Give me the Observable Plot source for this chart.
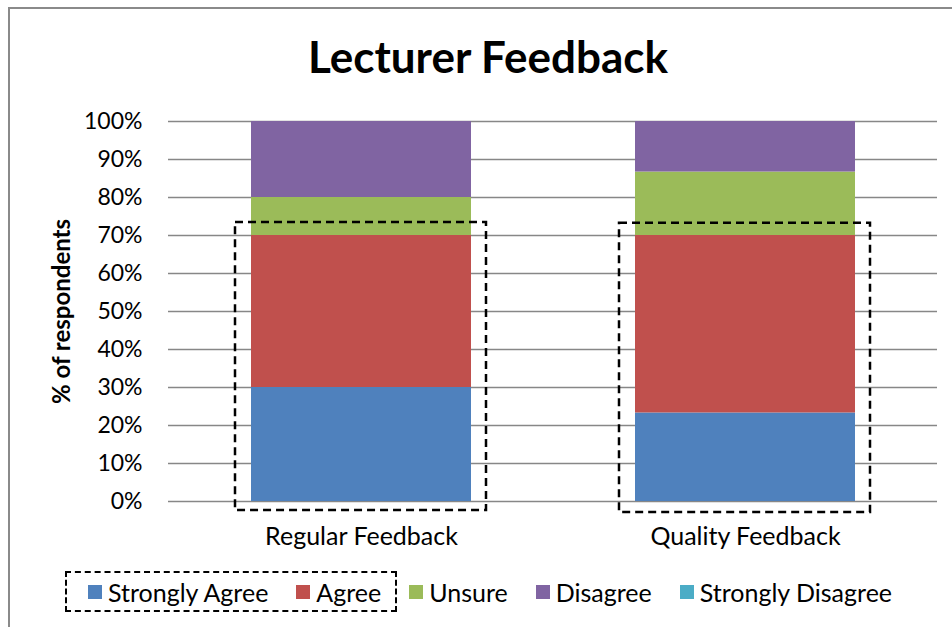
<!DOCTYPE html>
<html>
<head>
<meta charset="utf-8">
<script src="https://cdn.jsdelivr.net/npm/d3@7"></script>
<script src="https://cdn.jsdelivr.net/npm/@observablehq/plot@0.6"></script>
<style>
  html, body { margin: 0; padding: 0; background: #fff; }
  body { width: 952px; height: 627px; overflow: hidden; position: relative; font-family: Lato, "Open Sans", sans-serif; }
  #frame { position: absolute; left: 8px; top: 7px; width: 1000px; height: 700px; border: 2px solid #8a8a8a; box-sizing: border-box; }
  #chart { position: absolute; left: 0; top: 0; width: 952px; }
  #title { height: 100px; box-sizing: border-box; padding-top: 32px; padding-left: 24px; text-align: center; font-weight: bold; font-size: 44px; line-height: 48px; color: #000; }
  #legend { display: flex; align-items: center; height: 71px; padding-left: 65px; box-sizing: border-box; font-size: 25px; color: #000; }
  .group { display: flex; align-items: center; border: 2.5px dashed #000; height: 41px; box-sizing: border-box; padding-left: 21px; padding-right: 14px; }
  .item { display: flex; align-items: center; margin-right: 28px; }
  .group .item:last-child { margin-right: 0; }
  .outside { margin-left: 12px; }
  .sw { width: 14px; height: 14px; margin-right: 6px; }
</style>
</head>
<body>
<div id="frame"></div>
<div id="chart">
  <div id="title">Lecturer Feedback</div>
  <div id="plot"></div>
  <div id="legend"></div>
</div>
<script>
const categories = ["Regular Feedback", "Quality Feedback"];
const seriesNames = ["Strongly Agree", "Agree", "Unsure", "Disagree", "Strongly Disagree"];
const regularPct = [30, 40, 10, 20, 0];
const qualityPct = [23.3, 46.7, 16.7, 13.3, 0];
const seriesColors = ["#4F81BD", "#C0504D", "#9BBB59", "#8064A2", "#4BACC6"];
const yTicks = [0, 10, 20, 30, 40, 50, 60, 70, 80, 90, 100];
const boxLow = [-2.4, -2.9];
const boxHigh = [73.4, 73.2];
const yLabel = "% of respondents";

const seriesValues = [regularPct, qualityPct];
const rows = [];
categories.forEach((c, ci) => {
  seriesNames.forEach((s, si) => {
    rows.push({category: c, series: s, value: seriesValues[ci][si]});
  });
});
const boxes = categories.map((c, i) => ({category: c, low: boxLow[i], high: boxHigh[i]}));

const chart = Plot.plot({
  width: 952,
  height: 456,
  marginLeft: 168,
  marginRight: 15,
  marginTop: 21,
  marginBottom: 55,
  style: {fontFamily: "Lato, 'Open Sans', sans-serif", fontSize: "23px", color: "#000", background: "transparent"},
  x: {domain: categories, paddingInner: 0.428, paddingOuter: 0.214, label: null, tickSize: 0, tickPadding: 26},
  y: {domain: [0, 100], ticks: yTicks, tickFormat: d => d + "%", label: null, tickSize: 0, tickPadding: 26},
  color: {domain: seriesNames, range: seriesColors},
  marks: [
    Plot.ruleY(yTicks, {stroke: "#878787", strokeWidth: 1.3}),
    Plot.barY(rows, {x: "category", y: "value", fill: "series"}),
    Plot.barY(boxes, {x: "category", y1: "low", y2: "high", fill: "none", stroke: "#000", strokeWidth: 2.5, strokeDasharray: "8,5", insetLeft: -16, insetRight: -15}),
    Plot.text([yLabel], {text: d => d, frameAnchor: "left", textAnchor: "middle", dx: -106, rotate: -90, fontWeight: "bold", fontSize: 24, fill: "#000"})
  ]
});
chart.querySelectorAll("g[aria-label='x-axis'] text, g[aria-label='x-axis tick label'] text").forEach(t => t.style.fontSize = "25px");
document.getElementById("plot").appendChild(chart);

const legend = document.getElementById("legend");
const group = document.createElement("div");
group.className = "group";
legend.appendChild(group);
seriesNames.forEach((s, i) => {
  const item = document.createElement("div");
  item.className = "item" + (i === 2 ? " outside" : "");
  const sw = document.createElement("div");
  sw.className = "sw";
  sw.style.background = seriesColors[i];
  const t = document.createElement("span");
  t.textContent = s;
  item.appendChild(sw);
  item.appendChild(t);
  (i < 2 ? group : legend).appendChild(item);
});
</script>
</body>
</html>
